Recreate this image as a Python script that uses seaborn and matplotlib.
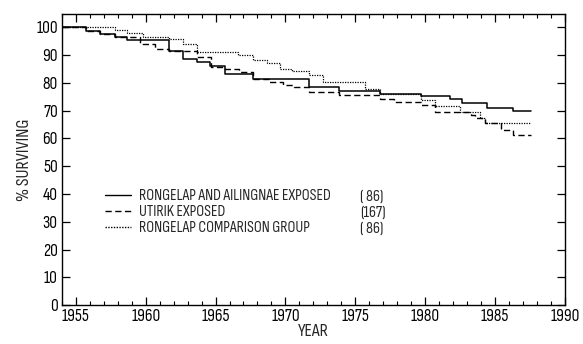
import matplotlib
matplotlib.use("Agg")
import matplotlib.pyplot as plt
from matplotlib.ticker import MultipleLocator
import seaborn as sns
import pandas as pd

# ---- data ----
rong_years = [1954.0, 1955.7, 1956.7, 1957.8, 1958.7, 1961.7, 1962.7, 1963.7, 1964.6,
              1965.7, 1967.7, 1971.7, 1973.8, 1976.8, 1979.7, 1981.8, 1982.6, 1984.4,
              1986.3, 1987.6]
rong_surv = [100, 98.8, 97.7, 96.5, 95.3, 91.5, 88.7, 87.6, 86.0,
             83.3, 81.5, 78.3, 77.1, 76.0, 75.3, 74.0, 72.7, 70.9,
             69.7, 69.7]

utirik_years = [1954.0, 1955.7, 1956.7, 1957.8, 1959.6, 1960.7, 1961.7, 1963.7, 1964.7,
                1965.7, 1966.7, 1967.7, 1968.8, 1969.8, 1970.6, 1971.7, 1973.8, 1976.8,
                1977.8, 1979.7, 1980.7, 1983.3, 1983.6, 1984.3, 1985.4, 1986.3, 1987.6]
utirik_surv = [100, 98.8, 97.7, 96.5, 94.1, 92.3, 91.5, 89.4, 85.8,
               85.1, 84.0, 81.5, 80.3, 79.1, 78.3, 76.8, 75.7, 74.3,
               73.2, 71.9, 69.5, 68.4, 67.4, 65.6, 63.0, 61.2, 61.2]

comp_years = [1954.0, 1957.8, 1958.7, 1959.8, 1961.7, 1962.7, 1963.7, 1966.6, 1967.7,
              1968.7, 1969.6, 1970.5, 1971.7, 1972.7, 1975.7, 1976.8, 1979.7, 1980.7,
              1982.5, 1983.9, 1984.3, 1987.6]
comp_surv = [100, 98.9, 98.0, 96.5, 95.8, 94.1, 91.1, 89.9, 88.3,
             87.2, 85.1, 84.2, 82.7, 80.3, 77.9, 76.0, 73.8, 71.6,
             69.5, 67.4, 65.6, 65.6]

series_names = ["RONGELAP AND AILINGNAE EXPOSED", "UTIRIK EXPOSED", "RONGELAP COMPARISON GROUP"]
series_counts = ["( 86)", "(167)", "( 86)"]
x_ticks = [1955, 1960, 1965, 1970, 1975, 1980, 1985, 1990]
y_ticks = [0, 10, 20, 30, 40, 50, 60, 70, 80, 90, 100]

sns.set_theme(style="ticks")
plt.rcParams["font.family"] = ["Sofia Sans Condensed", "Liberation Sans", "DejaVu Sans"]

fig = plt.figure(figsize=(5.83, 3.44), dpi=100)
ax = fig.add_axes([0.106, 0.113, 0.863, 0.846])

styles = ["-", (0, (4.5, 2.5)), (0, (1, 1))]
widths = [1.1, 1.0, 0.9]
for name, xs, ys, ls, lw in zip(series_names,
                                [rong_years, utirik_years, comp_years],
                                [rong_surv, utirik_surv, comp_surv], styles, widths):
    df = pd.DataFrame({"year": xs, "surv": ys})
    sns.lineplot(data=df, x="year", y="surv", ax=ax, color="black", linestyle=ls,
                 linewidth=lw, drawstyle="steps-post", label=name, estimator=None)

ax.set_xlim(1954, 1990)
ax.set_ylim(0, 104.7)
ax.set_xticks(x_ticks)
ax.set_xticklabels([str(t) for t in x_ticks])
ax.set_yticks(y_ticks)
ax.set_yticklabels([str(t) for t in y_ticks])
ax.xaxis.set_minor_locator(MultipleLocator(1))
ax.tick_params(axis="both", which="both", direction="in", top=True, right=True,
               colors="black", labelsize=12.5)
ax.tick_params(axis="both", which="major", length=6, width=0.9)
ax.tick_params(axis="both", which="minor", length=3, width=0.8)
ax.tick_params(axis="x", which="major", pad=3)
ax.tick_params(axis="y", which="major", pad=3)
for s in ax.spines.values():
    s.set_color("black")
    s.set_linewidth(1.0)

ax.set_xlabel("YEAR", fontsize=13, labelpad=0)
ax.set_ylabel("% SURVIVING", fontsize=13, labelpad=3)

leg = ax.legend(loc="upper left", bbox_to_anchor=(0.0855, 0.399), frameon=False,
                handlelength=1.65, handletextpad=0.5, labelspacing=0.13, fontsize=11.4,
                borderaxespad=0, borderpad=0)
for h in leg.get_lines():
    h.set_linewidth(1.0)
    h.set_color("black")

row_y = [0.371, 0.316, 0.261]
for c, yy in zip(series_counts, row_y):
    ax.text(0.592, yy, c, transform=ax.transAxes, fontsize=11.4, va="center", ha="left")

fig.savefig("out.png", dpi=100)
